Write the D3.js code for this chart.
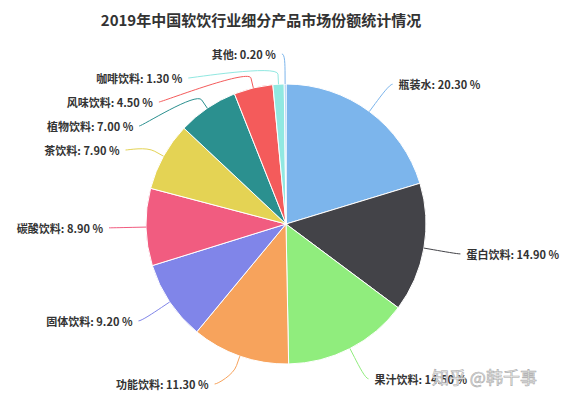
<!DOCTYPE html>
<html>
<head>
<meta charset="utf-8">
<script src="https://cdn.jsdelivr.net/npm/d3@7/dist/d3.min.js"></script>
<style>
  body { margin: 0; background: #fff; }
  text { font-family: "Noto Sans CJK SC", "Noto Sans", sans-serif; }
</style>
</head>
<body>
<div id="chart"></div>
<script>
// chart data
const categories = ['瓶装水', '蛋白饮料', '果汁饮料', '功能饮料', '固体饮料', '碳酸饮料',
    '茶饮料', '植物饮料', '风味饮料', '咖啡饮料', '其他'];
const shares = [20.30, 14.90, 14.50, 11.30, 9.20, 8.90, 7.90, 7.00, 4.50, 1.30, 0.20];
const palette = ['#7cb5ec', '#434348', '#90ed7d', '#f7a35c', '#8085e9', '#f15c80',
    '#e4d354', '#2b908f', '#f45b5b', '#91e8e1', '#7cb5ec'];
const title = '2019年中国软饮行业细分产品市场份额统计情况';
const watermark = '知乎 @韩千事';

const width = 572, height = 398;
const cx = 286, cy = 224, radius = 140;
const labelDistance = 34;   // from slice edge to connector end
const textPadding = 9;      // from connector end to label text
const slotHeight = 24;      // min vertical gap between labels
const yMin = 54, yMax = 384;

const svg = d3.select('#chart').append('svg')
    .attr('width', width)
    .attr('height', height);

svg.append('text')
    .attr('x', 261)
    .attr('y', 19)
    .attr('text-anchor', 'middle')
    .attr('dominant-baseline', 'central')
    .attr('font-size', 15)
    .attr('font-weight', 'bold')
    .attr('fill', '#333')
    .text(title);

const color = d3.scaleOrdinal().domain(d3.range(categories.length)).range(palette);

const pie = d3.pie().sort(null).value(i => shares[i]);
const arcs = pie(d3.range(categories.length));
const arc = d3.arc().innerRadius(0).outerRadius(radius);

const g = svg.append('g').attr('transform', `translate(${cx},${cy})`);

g.selectAll('path.slice')
    .data(arcs)
    .join('path')
    .classed('slice', true)
    .attr('d', arc)
    .attr('fill', d => color(d.data))
    .attr('stroke', '#fff')
    .attr('stroke-width', 1);

// label placement, roughly like highcharts' pie distribution
const R = radius + labelDistance;
const labels = arcs.map(d => {
    const a = (d.startAngle + d.endAngle) / 2;
    return {
        i: d.data,
        angle: a,
        left: a > Math.PI,
        naturalX: R * Math.sin(a),
        naturalY: -R * Math.cos(a),
        y: -R * Math.cos(a)
    };
});

[true, false].forEach(side => {
    const half = labels.filter(l => l.left === side).sort((a, b) => a.naturalY - b.naturalY);
    let prev = -Infinity;
    half.forEach(l => {
        l.y = Math.max(l.naturalY, prev + slotHeight, yMin - cy);
        prev = l.y;
    });
    let next = Infinity;
    half.slice().reverse().forEach(l => {
        l.y = Math.min(l.y, next - slotHeight, yMax - cy);
        next = l.y;
    });
    half.forEach(l => {
        // the label pinned to the top keeps its natural x
        const pinned = l.y <= yMin - cy + 0.01;
        const dx = Math.sqrt(Math.max(0, R * R - l.y * l.y));
        l.x = pinned ? l.naturalX : (l.left ? -dx : dx);
    });
});

const connector = l => {
    const sx = radius * Math.sin(l.angle), sy = -radius * Math.cos(l.angle);
    const bx = (radius + 10) * Math.sin(l.angle), by = -(radius + 10) * Math.cos(l.angle);
    const p = d3.path();
    p.moveTo(l.x + (l.left ? -3 : 3), l.y);
    p.bezierCurveTo(l.x, l.y, 2 * bx - sx, 2 * by - sy, bx, by);
    p.lineTo(sx, sy);
    return p.toString();
};

g.selectAll('path.connector')
    .data(labels)
    .join('path')
    .classed('connector', true)
    .attr('d', connector)
    .attr('fill', 'none')
    .attr('stroke', l => color(l.i))
    .attr('stroke-width', 1);

g.selectAll('text.label')
    .data(labels)
    .join('text')
    .classed('label', true)
    .attr('x', l => l.x + (l.left ? -textPadding : textPadding))
    .attr('y', l => l.y)
    .attr('text-anchor', l => l.left ? 'end' : 'start')
    .attr('dominant-baseline', 'central')
    .attr('font-size', 11)
    .attr('font-weight', 'bold')
    .attr('fill', '#333')
    .attr('stroke', '#fff')
    .attr('stroke-width', 2)
    .attr('paint-order', 'stroke')
    .text(l => `${categories[l.i]}: ${d3.format('.2f')(shares[l.i])} %`);

svg.append('text')
    .attr('x', 432)
    .attr('y', 376)
    .attr('dominant-baseline', 'central')
    .attr('font-size', 17)
    .attr('fill', '#eee')
    .attr('stroke', '#aaa')
    .attr('stroke-width', 0.6)
    .text(watermark);
</script>
</body>
</html>
